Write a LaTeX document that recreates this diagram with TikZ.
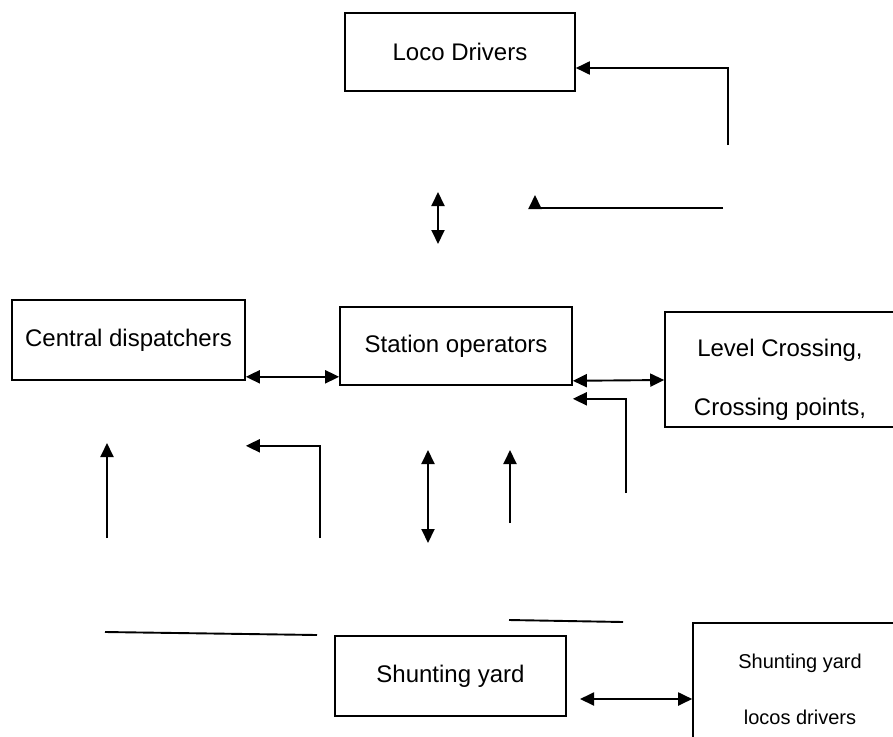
\documentclass[tikz,border=0pt]{standalone}
\usepackage{fontspec}
\setmainfont{Liberation Sans}
\usetikzlibrary{arrows.meta}

\begin{document}
\begin{tikzpicture}[x=1pt, y=-1pt, line width=1.9pt,
		every node/.style={font=\fontsize{24}{28}\selectfont, inner sep=0pt},
		box/.style={draw, line width=1.6pt},
		arrowto/.style={-{Triangle[length=14pt, width=13pt]}},
		arrowboth/.style={{Triangle[length=14pt, width=13pt]}-{Triangle[length=14pt, width=13pt]}}]
				\clip (0,0) rectangle (893,736);

				% Nodes
				\node[box, minimum width=230, minimum height=78] (loco) at (460,52) {Loco Drivers};
				\node[box, minimum width=233, minimum height=80] (central) at (128.5,340) {Central dispatchers};
				\node[box, minimum width=232, minimum height=78] (station) at (456,346) {Station operators};
				\node[box, minimum width=230, minimum height=115] (level) at (780,369.5) {};
				\node[align=center] (leveltext) at (780,380) {Level Crossing,\\[31pt]Crossing points,};
				\node[box, minimum width=231, minimum height=80] (shunt) at (450.5,676) {Shunting yard};
				\node[box, minimum width=214, minimum height=127] (slocos) at (800,686.5) {};
				\node[align=center, font=\fontsize{20}{24}\selectfont] (slocostext) at (800,689) {Shunting yard\\[32pt]locos drivers};

				% Free ends
				\coordinate (locofb) at (728,145);
				\coordinate (upfb) at (723,208);
				\coordinate (upfbtip) at (535,195);
				\coordinate (lsa) at (438,192);
				\coordinate (lsb) at (438,244);
				\coordinate (stfb) at (626,493);
				\coordinate (cdup) at (107,538);
				\coordinate (cduptip) at (107,443);
				\coordinate (cdfb) at (320,538);
				\coordinate (ssa) at (428,450);
				\coordinate (ssb) at (428,543);
				\coordinate (stup) at (510,523);
				\coordinate (stuptip) at (510,450);
				\coordinate (baseA) at (105,632);
				\coordinate (baseB) at (317,635);
				\coordinate (baseC) at (509,620);
				\coordinate (baseD) at (623,622);
				\coordinate (shfree) at (580,699);

				% Edges
				\draw[arrowto] (locofb) |- ([yshift=-16pt]loco.east);
				\draw[arrowto] (upfb) -| (upfbtip);
				\draw[arrowboth] (lsa) -- (lsb);
				\draw[arrowboth] ([yshift=4pt]central.south east) -- ([yshift=9pt]station.south west);
				\draw[arrowboth] ([yshift=5pt]station.south east) -- ([yshift=-10.5pt]level.west);
				\draw[arrowto] (stfb) |- ([yshift=-13pt]station.south east);
				\draw[arrowto] (cdup) -- (cduptip);
				\draw[arrowto] (cdfb) |- ([yshift=-65pt]central.south east);
				\draw[arrowboth] (ssa) -- (ssb);
				\draw[arrowto] (stup) -- (stuptip);
				\draw (baseA) -- (baseB);
				\draw (baseC) -- (baseD);
				\draw[arrowboth] (shfree) -- ([yshift=-12.5pt]slocos.west);
			\end{tikzpicture}
\end{document}
